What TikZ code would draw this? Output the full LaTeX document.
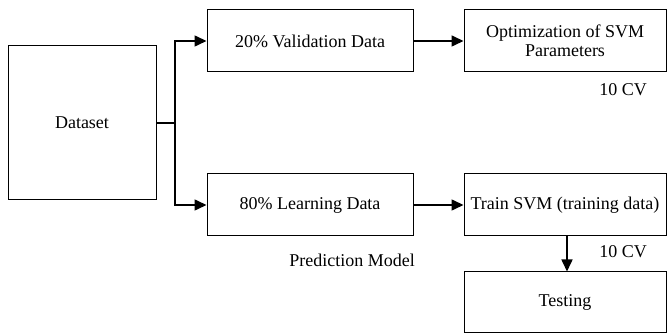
\documentclass[tikz,border=0pt]{standalone}
\usepackage{fontspec}
\setmainfont{Liberation Serif}
\usetikzlibrary{arrows.meta}

\begin{document}
\begin{tikzpicture}[x=1pt,y=1pt,
    every node/.style={font=\fontsize{18}{21}\selectfont},
    box/.style={draw,line width=1pt,inner sep=0pt,align=center},
    flow/.style={line width=1.6pt,-{Triangle[length=12pt,width=11pt]}}]
  \useasboundingbox (0,0) rectangle (667,334);
  % boxes
  \node (dataset) at (82,211) [box,minimum width=148,minimum height=154] {Dataset};
  \node (valid) at (310,293) [box,minimum width=206,minimum height=62] {20\% Validation Data};
  \node (learn) at (310,129) [box,minimum width=206,minimum height=62] {80\% Learning Data};
  \node (optim) at (565,293) [box,minimum width=202,minimum height=62] {Optimization of SVM\\[-2pt]Parameters};
  \node (train) at (565,129) [box,minimum width=202,minimum height=62] {Train SVM (training data)};
  \node (test) at (565,31.5) [box,minimum width=202,minimum height=61] {Testing};
  % labels
  \node (cvtop) at (623,244) {10 CV};
  \node (cvbot) at (623,82) {10 CV};
  \node (predict) at (352,74) {Prediction Model};
  % connectors
  \coordinate (split) at (175,211);
  \draw [line width=1.6pt] (dataset.east) -- (split);
  \draw [flow] (split) |- (valid.west);
  \draw [flow] (split) |- (learn.west);
  \draw [flow] (valid) -- (optim);
  \draw [flow] (learn) -- (train);
  \draw [flow] (train.south) ++(2,0) coordinate (down) -- (down |- test.north);
\end{tikzpicture}
\end{document}
